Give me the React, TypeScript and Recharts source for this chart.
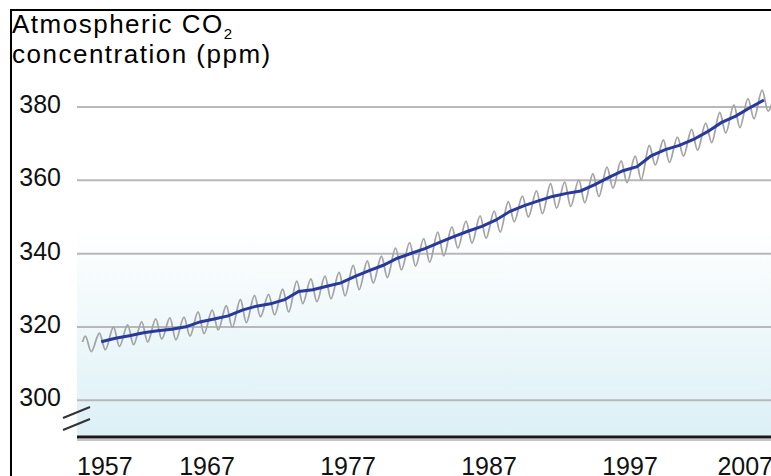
import { LineChart, Line, XAxis, YAxis, ReferenceArea, ReferenceLine } from 'recharts';

const FONT = '"Liberation Sans", Arial, Helvetica, sans-serif';

// annual means (ppm), 1959 - 2006, plotted mid-year
const annualStart = 1959;
const annualMean = [
  315.97, 316.91, 317.64, 318.45, 318.99, 319.4, 320.04, 321.38, 322.16, 323.04,
  324.62, 325.68, 326.32, 327.45, 329.68, 330.18, 331.11, 332.04, 333.83, 335.4,
  336.84, 338.75, 340.11, 341.45, 343.05, 344.65, 346.12, 347.42, 349.19, 351.57,
  353.12, 354.39, 355.61, 356.45, 357.1, 358.83, 360.82, 362.61, 363.73, 366.7,
  368.38, 369.55, 371.14, 373.28, 375.8, 377.52, 379.8, 381.9,
];

// seasonal cycle: first reading (March 1958), May maxima, autumn minima
const seasonStart = 1958;
const firstReading = { year: 1958.17, co2: 315.9 };
const mayPeaks = [
  317.5, 318.3, 320.0, 320.6, 321.4, 322.2, 322.5, 322.7, 324.1, 324.6,
  325.8, 327.5, 328.6, 328.9, 330.3, 332.5, 333.1, 333.9, 334.9, 336.8,
  338.0, 339.3, 341.5, 343.0, 344.1, 345.9, 347.3, 348.9, 350.3, 351.6,
  354.2, 355.7, 357.1, 359.1, 359.5, 360.1, 361.8, 363.6, 365.3, 366.6,
  369.5, 371.0, 371.8, 373.9, 375.6, 378.5, 380.6, 382.3, 384.6, 386.4,
];
const autumnLows = [
  313.3, 313.8, 314.7, 315.2, 315.9, 316.7, 316.5, 317.5, 318.2, 319.2,
  319.9, 321.2, 322.8, 323.3, 324.1, 326.4, 326.9, 327.7, 328.5, 330.2,
  332.0, 333.5, 335.6, 336.6, 337.7, 339.4, 341.5, 342.9, 344.2, 345.9,
  348.7, 350.0, 350.9, 352.4, 352.9, 353.9, 355.6, 357.9, 359.4, 360.2,
  364.2, 364.9, 366.6, 368.2, 370.3, 372.9, 374.4, 376.8, 378.9,
];

const yearTicks = [1957, 1967, 1977, 1987, 1997, 2007];
const ppmTicks = [300, 320, 340, 360, 380];

const X_MIN = 1957.78;
const X_MAX = 2007;
const Y_MIN = 290;
const Y_MAX = 392;

const annualData = annualMean.map((co2, i) => ({ year: annualStart + i + 0.5, co2 }));

const seasonalData = [firstReading];
mayPeaks.forEach((peak, i) => {
  const yr = seasonStart + i;
  seasonalData.push({ year: yr + 0.37, co2: peak });
  if (i < autumnLows.length) seasonalData.push({ year: yr + 0.79, co2: autumnLows[i] });
});

const YTick = ({ x, y, payload }: any) => (
  <text x={x - 1} y={y} dy={6} textAnchor="end" fontSize={25} fill="#111" fontFamily={FONT}>
    {payload.value}
  </text>
);

const XTick = ({ x, y, index }: any) => {
  const last = yearTicks.length - 1;
  const anchor = index === 0 ? 'start' : index === last ? 'end' : 'middle';
  return (
    <text x={index === last ? x + 2 : x} y={y + 38} textAnchor={anchor} fontSize={25} fill="#111" fontFamily={FONT}>
      {yearTicks[index]}
    </text>
  );
};

export default function App() {
  return (
    <div style={{ position: 'absolute', left: 0, top: 0, width: 771, height: 476, background: '#fff', overflow: 'hidden' }}>
      <LineChart width={771} height={476} margin={{ top: 63, right: 0, bottom: 0, left: 0 }}>
        <defs>
          <linearGradient id="bgGrad" x1="0" y1="0" x2="0" y2="1">
            <stop offset="0%" stopColor="#ffffff" />
            <stop offset="44%" stopColor="#ffffff" />
            <stop offset="100%" stopColor="#dcf0f6" />
          </linearGradient>
        </defs>
        <XAxis
          type="number"
          dataKey="year"
          domain={[X_MIN, X_MAX]}
          allowDataOverflow
          ticks={yearTicks.map((t) => Math.max(t, X_MIN))}
          interval={0}
          height={39}
          tickLine={false}
          tickSize={0}
          tickMargin={0}
          tick={<XTick />}
          axisLine={{ stroke: '#1a1a1a', strokeWidth: 3 }}
        />
        <YAxis
          type="number"
          domain={[Y_MIN, Y_MAX]}
          allowDataOverflow
          ticks={ppmTicks}
          interval={0}
          width={77}
          tickLine={false}
          tickSize={0}
          tickMargin={15}
          axisLine={false}
          tick={<YTick />}
        />
        <ReferenceArea x1={X_MIN} x2={X_MAX} y1={Y_MIN} y2={Y_MAX} fill="url(#bgGrad)" fillOpacity={1} stroke="none" />
        {ppmTicks.map((v) => (
          <ReferenceLine key={v} y={v} stroke="#b8b8b8" strokeWidth={2} />
        ))}
        <Line data={seasonalData} dataKey="co2" type="monotone" stroke="#a4a4a4" strokeWidth={1.8} dot={false} isAnimationActive={false} />
        <Line data={annualData} dataKey="co2" type="linear" stroke="#27399c" strokeWidth={3} dot={false} isAnimationActive={false} />
      </LineChart>

      {/* frame */}
      <div style={{ position: 'absolute', left: 10, top: 9, width: 761, height: 467, borderLeft: '2px solid #000', borderTop: '2px solid #000', boxSizing: 'border-box', pointerEvents: 'none' }} />

      {/* axis break marks + axis shadow */}
      <svg width={771} height={476} style={{ position: 'absolute', left: 0, top: 0, pointerEvents: 'none' }}>
        <line x1={63} y1={418} x2={90} y2={407} stroke="#333" strokeWidth={2} />
        <line x1={63} y1={430} x2={90} y2={419} stroke="#333" strokeWidth={2} />
        <line x1={77} y1={440} x2={771} y2={440} stroke="#c4c4c4" strokeWidth={2} />
      </svg>

      <div style={{ position: 'absolute', left: 12, top: 9, fontFamily: FONT, fontSize: 26, lineHeight: '30px', letterSpacing: 1.5, color: '#000', whiteSpace: 'nowrap' }}>
        <div>
          Atmospheric CO
          <span style={{ fontSize: 15, position: 'relative', top: 6, lineHeight: 0, letterSpacing: 0 }}>2</span>
        </div>
        <div>concentration (ppm)</div>
      </div>
    </div>
  );
}
